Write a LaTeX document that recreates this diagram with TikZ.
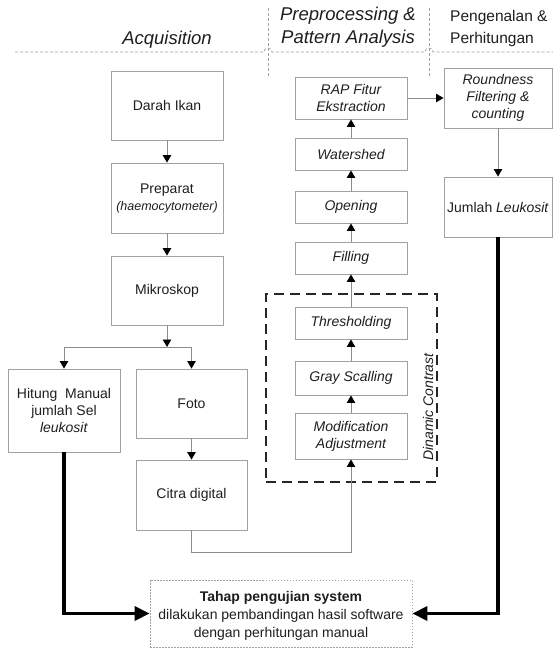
\documentclass[tikz,border=0pt]{standalone}
\usepackage{fontspec}
\setmainfont{Liberation Sans}
\usetikzlibrary{arrows.meta}
\definecolor{bgray}{HTML}{A0A0A0}
\definecolor{lgray}{HTML}{8C8C8C}
\definecolor{txt}{HTML}{1E1E1E}
\begin{document}
\begin{tikzpicture}[x=1pt,y=-1pt,
 box/.style={draw=bgray, line width=0.9pt, align=center, inner sep=1pt, text=txt, font=\fontsize{14}{17}\selectfont},
 ibox/.style={box, font=\fontsize{14}{17}\selectfont\itshape},
 conn/.style={draw=lgray, line width=0.9pt, -{Triangle[length=7.5pt,width=8.5pt,color=black]}},
 boldconn/.style={draw=black, line width=3.5pt, -{Triangle[length=15pt,width=14pt]}},
 hdr/.style={draw=bgray, line width=0.8pt, dash pattern=on 3pt off 2pt},
]
\useasboundingbox (0,0) rectangle (553,649);

% headers
\node[text=txt, font=\fontsize{18.5}{23}\selectfont\itshape] (hacq) at (167,40) {Acquisition};
\node[text=txt, align=center, font=\fontsize{18.5}{23}\selectfont\itshape] (hpre) at (348,27) {Preprocessing \&\\Pattern Analysis};
\node[text=txt, align=left, anchor=west, inner sep=0pt, font=\fontsize{15.5}{22}\selectfont] (hpen) at (450,28) {Pengenalan \&\\Perhitungan};
\draw[hdr] (15,52) -- (264,52) arc[start angle=180,end angle=360,radius=4] -- (425,52) arc[start angle=180,end angle=360,radius=4] -- (553,52);
\draw[hdr] (268,8) -- (268,76);
\draw[hdr] (429,8) -- (429,76);

% acquisition column
\node[box, minimum width=112, minimum height=69] (darah) at (167,105.5) {Darah Ikan};
\node[box, minimum width=112, minimum height=70] (prep) at (167,198) {Preparat\\{\fontsize{12.5}{15}\selectfont\itshape (haemocytometer)}};
\node[box, minimum width=112, minimum height=69] (mik) at (167,290.5) {Mikroskop};
\node[box, minimum width=112, minimum height=83] (hit) at (64,410.5) {Hitung\ \ Manual\\jumlah Sel\\\textit{leukosit}};
\node[box, minimum width=111, minimum height=69] (foto) at (191.5,403.5) {Foto};
\node[box, minimum width=111, minimum height=70] (citra) at (191.5,495) {Citra digital};

% preprocessing column
\node[ibox, minimum width=112, minimum height=42] (rap) at (351,98) {RAP Fitur\\Ekstraction};
\node[ibox, minimum width=112, minimum height=32] (water) at (351,154) {Watershed};
\node[ibox, minimum width=112, minimum height=32] (open) at (351,207) {Opening};
\node[ibox, minimum width=112, minimum height=32] (fill) at (351,258) {Filling};
\node[ibox, minimum width=112, minimum height=32] (thresh) at (351,323) {Thresholding};
\node[ibox, minimum width=112, minimum height=34] (gray) at (351,378) {Gray Scalling};
\node[ibox, minimum width=112, minimum height=46] (modif) at (351,436) {Modification\\Adjustment};
\node[draw=black!85, line width=2.3pt, dash pattern=on 10pt off 6pt, minimum width=171, minimum height=188, inner sep=0pt] (dyn) at (351.5,388) {};
\node[rotate=90, text=txt, font=\fontsize{14}{17}\selectfont\itshape] (dc) at (428,407) {Dinamic Contrast};

% recognition column
\node[ibox, minimum width=108, minimum height=60] (round) at (498,98) {Roundness\\Filtering \&\\counting};
\node[box, minimum width=108, minimum height=60] (jumlah) at (498,207) {Jumlah \textit{Leukosit}};

% test box
\node[draw=bgray, line width=0.8pt, dash pattern=on 1.5pt off 1.5pt, minimum width=262, minimum height=67, inner sep=0pt] (tahap) at (281,613.5) {};
\node[align=center, text=txt, font=\fontsize{14}{18}\selectfont] (tahaptxt) at (281,616) {\textbf{Tahap pengujian system}\\dilakukan pembandingan hasil software\\dengan perhitungan manual};

% connectors
\coordinate (br) at (167,347);
\draw[conn] (darah) -- (prep);
\draw[conn] (prep) -- (mik);
\draw[conn] (mik.south) -- (br);
\draw[conn] (br) -| (hit.north);
\draw[conn] (br) -| (foto.north);
\draw[conn] (foto) -- (citra);
\draw[conn] (citra.south) -- ++(0,22) -| (modif.south);
\draw[conn] (modif) -- (gray);
\draw[conn] (gray) -- (thresh);
\draw[conn] (thresh) -- (fill);
\draw[conn] (fill) -- (open);
\draw[conn] (open) -- (water);
\draw[conn] (water) -- (rap);
\draw[conn] (rap) -- (round);
\draw[conn] (round) -- (jumlah);
\draw[boldconn] (hit.south) |- (tahap.west);
\draw[boldconn] (jumlah.south) |- (tahap.east);
\end{tikzpicture}
\end{document}
